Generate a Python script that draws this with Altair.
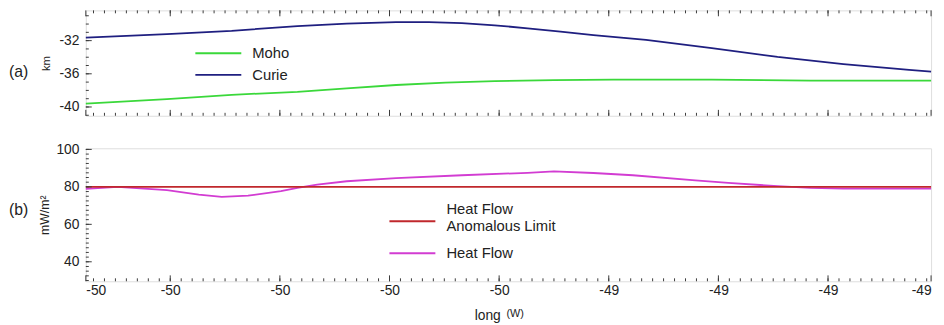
import altair as alt
import numpy as np
import pandas as pd

# ---------------- data ----------------
curie_lon = [-49.927, -49.853, -49.794, -49.734, -49.689, -49.644, -49.614, -49.584,
             -49.554, -49.524, -49.494, -49.464, -49.416, -49.356, -49.296, -49.236,
             -49.176, -49.156]
curie_km = [-31.65, -31.21, -30.82, -30.24, -29.96, -29.76, -29.76, -29.88,
            -30.15, -30.51, -30.91, -31.33, -31.92, -32.91, -33.96, -34.82,
            -35.53, -35.75]

moho_lon = [-49.927, -49.853, -49.794, -49.734, -49.689, -49.644, -49.599, -49.554,
            -49.500, -49.446, -49.356, -49.266, -49.212, -49.156]
moho_km = [-39.59, -39.06, -38.53, -38.18, -37.76, -37.35, -37.06, -36.88,
           -36.76, -36.71, -36.71, -36.82, -36.82, -36.82]

hf_lon = [-49.927, -49.898, -49.853, -49.824, -49.803, -49.779, -49.749, -49.734,
          -49.716, -49.689, -49.644, -49.584, -49.524, -49.500, -49.464, -49.428,
          -49.371, -49.341, -49.296, -49.266, -49.236, -49.156]
hf_val = [78.9, 80.0, 78.3, 75.9, 74.7, 75.3, 77.7, 79.5,
          81.2, 83.0, 84.7, 86.2, 87.5, 88.3, 87.4, 86.2,
          83.5, 82.1, 80.4, 79.5, 79.1, 79.1]

limit_lon = [-49.927, -49.156]
limit_val = [80, 80]

top_series = ["Moho", "Curie"]
top_colors = ["#3ad83a", "#1f1f80"]
limit_name = "Heat Flow Anomalous Limit"
limit_color = "#c0282c"
hf_name = "Heat Flow"
hf_color = "#d23cd2"

x_domain = [-49.927, -49.156]
x_major = [-49.927, -49.85, -49.75, -49.65, -49.55, -49.45, -49.35, -49.25, -49.156]
x_minor = [float(v) for v in np.round(np.arange(-49.92, -49.155, 0.01), 3)]

top_domain = [-41.06, -28.35]
top_major = [-32, -36, -40]
top_minor = list(range(-41, -28))

bot_domain = [29.6, 100.6]
bot_major = [40, 60, 80, 100]
bot_minor = [float(v) for v in np.arange(30, 100.1, 2.5)]

panel_labels = ["(a)", "(b)"]
x_title = ["long", "(W)"]

FONT = "Liberation Sans"
FRAME = "#3a3a3a"
TXT = "#222222"
W = 858
H_TOP = 107
H_BOT = 135

top_df = pd.concat([
    pd.DataFrame({"lon": moho_lon, "v": moho_km, "series": "Moho"}),
    pd.DataFrame({"lon": curie_lon, "v": curie_km, "series": "Curie"}),
])
hf_df = pd.DataFrame({"lon": hf_lon, "v": hf_val, "series": hf_name})
limit_df = pd.DataFrame({"lon": limit_lon, "v": limit_val, "series": limit_name})

HYPHEN = "replace(datum.label, '\u2212', '-')"

xs = alt.Scale(domain=x_domain, nice=False, zero=False)


def x_ticks(values, y0, y1):
    return alt.Chart(pd.DataFrame({"t": values})).mark_rule(
        color=FRAME, strokeWidth=1).encode(
        x=alt.X("t:Q", scale=xs, axis=None),
        y=alt.value(y0), y2=alt.value(y1))


def y_ticks(values, ys, x0, x1):
    return alt.Chart(pd.DataFrame({"t": values})).mark_rule(
        color=FRAME, strokeWidth=1).encode(
        y=alt.Y("t:Q", scale=ys, axis=None),
        x=alt.value(x0), x2=alt.value(x1))


def y_axis(values, title, pad, size):
    return alt.Axis(orient="left", ticks=False, values=values, format="d",
                    domain=False, grid=False, title=title, titleFontSize=size,
                    titleFont=FONT, titleFontWeight="normal", titlePadding=pad,
                    titleColor=TXT, labelFont=FONT, labelFontSize=14,
                    labelColor=TXT, labelPadding=7, labelExpr=HYPHEN)


def legend(x, y, row_pad=6, symbol="M-5,0H5", **kw):
    return alt.Legend(orient="none", legendX=x, legendY=y, title=None,
                      symbolType=symbol, symbolSize=87, symbolStrokeWidth=2,
                      labelOffset=27, rowPadding=row_pad, labelFont=FONT,
                      labelFontSize=15, labelColor=TXT, **kw)


def panel_label(text):
    return alt.Chart(pd.DataFrame({"t": [text]})).mark_text(
        align="left", baseline="middle", font=FONT, fontSize=16, color=TXT
    ).encode(x=alt.value(-78), y=alt.value(63), text="t:N")


# ---------------- (a) Moho / Curie depth ----------------
ys_top = alt.Scale(domain=top_domain, nice=False, zero=False)
top_lines = alt.Chart(top_df).mark_line(strokeWidth=1.8).encode(
    x=alt.X("lon:Q", scale=xs, axis=None),
    y=alt.Y("v:Q", scale=ys_top, axis=y_axis(top_major, "km", 8, 11.5)),
    color=alt.Color("series:N",
                    scale=alt.Scale(domain=top_series, range=top_colors),
                    legend=legend(127, 36)),
)
top = alt.layer(
    top_lines,
    x_ticks(x_major, H_TOP, H_TOP - 6),
    x_ticks(x_minor, H_TOP, H_TOP - 3),
    x_ticks(x_major, 0, 6),
    x_ticks(x_minor, 0, 3),
    y_ticks(top_major, ys_top, 0, 6),
    y_ticks(top_minor, ys_top, 0, 3),
    panel_label(panel_labels[0]),
).resolve_axis(x="independent", y="independent").properties(width=W, height=H_TOP)

# ---------------- (b) Heat flow ----------------
ys_bot = alt.Scale(domain=bot_domain, nice=False, zero=False)
bot_x_axis = alt.Axis(orient="bottom", ticks=False, values=x_major, format=".0f",
                      labelExpr=HYPHEN, labelFlush=True, domain=False,
                      grid=False, title=None, labelFont=FONT, labelFontSize=14,
                      labelColor=TXT, labelPadding=2)
hf_line = alt.Chart(hf_df).mark_line(strokeWidth=1.8).encode(
    x=alt.X("lon:Q", scale=xs, axis=bot_x_axis),
    y=alt.Y("v:Q", scale=ys_bot, axis=y_axis(bot_major, "mW/m²", 5, 12.5)),
    stroke=alt.Stroke("series:N",
                      scale=alt.Scale(domain=[hf_name], range=[hf_color]),
                      legend=legend(324, 99)),
)
limit_line = alt.Chart(limit_df).mark_line(strokeWidth=1.8).encode(
    x=alt.X("lon:Q", scale=xs, axis=None),
    y=alt.Y("v:Q", scale=ys_bot, axis=None),
    color=alt.Color("series:N",
                    scale=alt.Scale(domain=[limit_name], range=[limit_color]),
                    legend=legend(324, 63, symbol="M-5,0.75H5",
                                  labelBaseline="line-bottom",
                                  labelExpr="['Heat Flow', 'Anomalous Limit']")),
)
title_main = alt.Chart(pd.DataFrame({"t": [x_title[0]]})).mark_text(
    align="center", baseline="alphabetic", font=FONT, fontSize=14, color=TXT
).encode(x=alt.value(408), y=alt.value(174), text="t:N")
title_sup = alt.Chart(pd.DataFrame({"t": [x_title[1]]})).mark_text(
    align="left", baseline="alphabetic", font=FONT, fontSize=11, color=TXT
).encode(x=alt.value(427), y=alt.value(171), text="t:N")

bottom = alt.layer(
    hf_line,
    limit_line,
    x_ticks(x_major, H_BOT, H_BOT - 6),
    x_ticks(x_minor, H_BOT, H_BOT - 3),
    y_ticks(bot_major, ys_bot, 0, 6),
    y_ticks(bot_minor, ys_bot, 0, 3),
    panel_label(panel_labels[1]),
    title_main,
    title_sup,
).resolve_axis(x="independent", y="independent").properties(width=W, height=H_BOT)

chart = alt.vconcat(top, bottom, spacing=25).resolve_scale(
    color="independent", stroke="independent"
).properties(
    padding={"left": 0, "top": -1, "right": 0, "bottom": 0}
).configure_view(
    stroke=FRAME, strokeWidth=1.5
).configure(background="white")

chart.save("out.html", embed_options={"renderer": "svg", "actions": False})
